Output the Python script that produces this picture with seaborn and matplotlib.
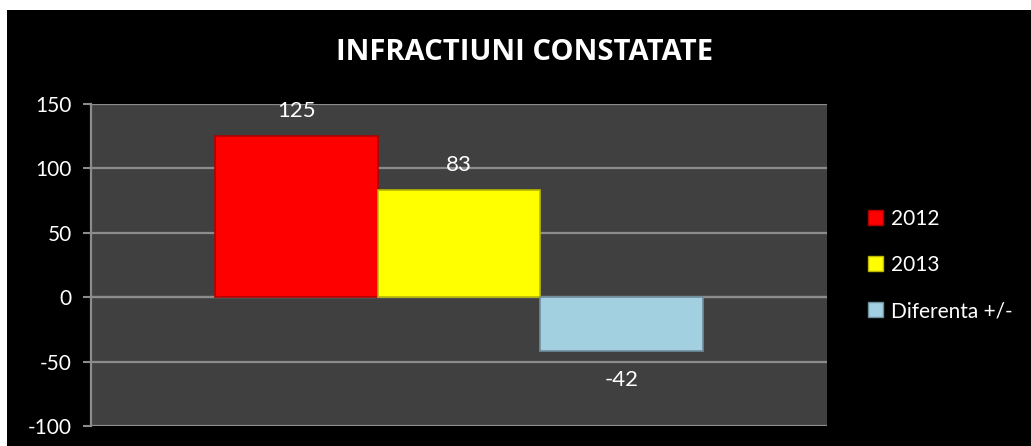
import numpy as np
import pandas as pd
import seaborn as sns
import matplotlib.pyplot as plt
from matplotlib.patches import Rectangle

# chart data
series = ['2012', '2013', 'Diferenta +/-']
values = [125, 83, -42]
colors = ['#ff0000', '#ffff00', '#a3d0e0']
edges = ['#b00000', '#b8b800', '#6f8f9c']
yticks = [-100, -50, 0, 50, 100, 150]
title = 'INFRACTIUNI CONSTATATE'

sns.set_style('dark')
plt.rcParams['font.family'] = ['Lato', 'DejaVu Sans']

df = pd.DataFrame({'cat': ['A'] * len(series), 'serie': series, 'val': values})

fig = plt.figure(figsize=(10.31, 4.46), dpi=100)
fig.patch.set_facecolor('white')
# black background panel
fig.patches.append(Rectangle((7 / 1031, 0), 1, 1 - 10 / 446, transform=fig.transFigure,
                             facecolor='black', edgecolor='none', zorder=-10))

ax = fig.add_axes([91 / 1031, 1 - 426 / 446, (827 - 91) / 1031, (426 - 104) / 446])
ax.set_facecolor('#404040')

sns.barplot(data=df, x='cat', y='val', hue='serie', palette=colors, width=0.664,
            ax=ax, legend=True, zorder=3, saturation=1)

for i, patch in enumerate(ax.patches[:len(series)]):
    patch.set_edgecolor(edges[i])
    patch.set_linewidth(1.2)
    h = patch.get_height()
    xc = patch.get_x() + patch.get_width() / 2
    off = 18 if h >= 0 else -21
    ax.annotate(f'{values[i]}', (xc, h), xytext=(0, off), textcoords='offset points',
                ha='center', va='center', color='white', fontsize=16)

ax.set_ylim(-100, 150)
ax.set_xlim(-0.5, 0.5)
ax.set_yticks(yticks)
ax.set_yticklabels([str(t) for t in yticks], color='white', fontsize=15)
ax.yaxis.grid(True, color='#8c8c8c', linewidth=1.6, zorder=0)
ax.xaxis.grid(False)
ax.set_xticks([])
ax.set_xlabel('')
ax.set_ylabel('')
ax.tick_params(axis='y', length=6, width=1.5, color='#8c8c8c', pad=8, left=True)
ax.axhline(0, color='#8c8c8c', linewidth=1.6, zorder=2)
for s in ['top', 'right', 'bottom']:
    ax.spines[s].set_visible(False)
ax.spines['left'].set_color('#8c8c8c')
ax.spines['left'].set_linewidth(1.6)

leg = ax.legend(loc='center left', bbox_to_anchor=(1.03, 0.5), frameon=False,
                fontsize=15, handlelength=0.75, handleheight=0.75, handletextpad=0.35,
                labelspacing=1.25)
for t in leg.get_texts():
    t.set_color('white')
for i, h in enumerate(leg.legend_handles):
    h.set_edgecolor(edges[i])

fig.text(525 / 1031, 1 - 53 / 446, title, ha='center', va='center', color='white',
         fontsize=21, fontweight='bold', family=['Open Sans', 'DejaVu Sans'])

fig.savefig('out.png', dpi=100)
